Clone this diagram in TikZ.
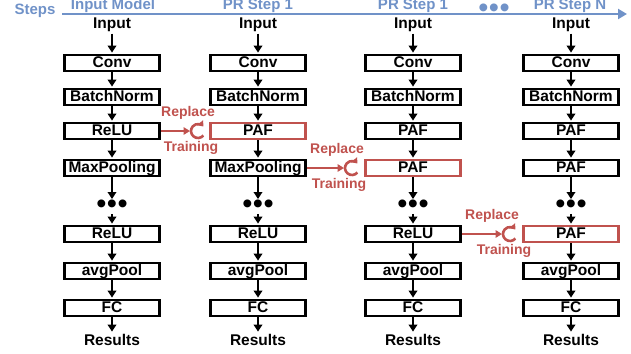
\documentclass[tikz,border=0pt]{standalone}
\usepackage{fontspec}
\setmainfont{Liberation Sans}
\usetikzlibrary{arrows.meta}
\definecolor{stepblue}{RGB}{112,146,200}
\definecolor{repred}{RGB}{192,82,78}
\newcommand{\mydots}{\fontsize{29}{29}\selectfont\textbullet\kern0.5pt\textbullet\kern0.5pt\textbullet}
\begin{document}
\begin{tikzpicture}[x=1pt,y=-1pt,
  layer/.style={draw=black, line width=2.8pt, minimum width=95pt, minimum height=16pt,
    inner sep=0pt, text height=10.8pt, text depth=2.2pt,
    font=\fontsize{15.5}{15.5}\selectfont\bfseries, fill=white},
  paf/.style={layer, draw=repred},
  lbl/.style={font=\fontsize{15.5}{15.5}\selectfont\bfseries, inner sep=1.5pt},
  hdr/.style={font=\fontsize{15}{15}\selectfont\bfseries, text=stepblue, inner sep=0pt},
  dotn/.style={inner sep=0pt, font=\mydots},
  flow/.style={line width=2.3pt, -{Triangle[width=8.5pt,length=7pt]}, shorten >=1pt},
  repl/.style={font=\fontsize{14}{14}\selectfont\bfseries, text=repred, inner sep=0pt},
  reparr/.style={draw=repred, line width=2.3pt, -{Triangle[width=7.5pt,length=6.5pt]}},
  repcirc/.style={draw=repred, line width=2.6pt, -{Triangle[width=7.5pt,length=5pt]}},
  axis/.style={draw=stepblue, line width=2.6pt, -{Triangle[width=10pt,length=9pt]}}
]
\useasboundingbox (0,0) rectangle (631,353);

% header
\node[hdr] (steps) at (35,11) {Steps};
\coordinate (axstart) at (62,14);
\coordinate (axend) at (627,14);
\draw[axis] (axstart) -- (axend);
\node[hdr, anchor=base] (h1) at (113,9.5) {Input Model};
\node[hdr, anchor=base] (h2) at (258,9.5) {PR Step 1};
\node[hdr, anchor=base] (h3) at (413,9.5) {PR Step 1};
\node[dotn, text=stepblue] (hd) at (494,11) {};
\node[hdr, anchor=base] (h4) at (570,9.5) {PR Step N};

% column 1
\node[lbl] (a0) at (112,25) {Input};
\node[layer] (a1) at (112,63) {Conv};
\node[layer] (a2) at (112,97) {BatchNorm};
\node[layer] (a3) at (112,131) {ReLU};
\node[layer] (a4) at (112,168) {MaxPooling};
\node[dotn] (a5) at (112,207) {};
\node[layer] (a6) at (112,234) {ReLU};
\node[layer] (a7) at (112,271) {avgPool};
\node[layer] (a8) at (112,308) {FC};
\node[lbl] (a9) at (112,340) {Results};

% column 2
\node[lbl] (b0) at (258,25) {Input};
\node[layer] (b1) at (258,63) {Conv};
\node[layer] (b2) at (258,97) {BatchNorm};
\node[paf] (b3) at (258,131) {PAF};
\node[layer] (b4) at (258,168) {MaxPooling};
\node[dotn] (b5) at (258,207) {};
\node[layer] (b6) at (258,234) {ReLU};
\node[layer] (b7) at (258,271) {avgPool};
\node[layer] (b8) at (258,308) {FC};
\node[lbl] (b9) at (258,340) {Results};

% column 3
\node[lbl] (c0) at (413,25) {Input};
\node[layer] (c1) at (413,63) {Conv};
\node[layer] (c2) at (413,97) {BatchNorm};
\node[layer] (c3) at (413,131) {PAF};
\node[paf] (c4) at (413,168) {PAF};
\node[dotn] (c5) at (413,207) {};
\node[layer] (c6) at (413,234) {ReLU};
\node[layer] (c7) at (413,271) {avgPool};
\node[layer] (c8) at (413,308) {FC};
\node[lbl] (c9) at (413,340) {Results};

% column 4
\node[lbl] (d0) at (571,25) {Input};
\node[layer] (d1) at (571,63) {Conv};
\node[layer] (d2) at (571,97) {BatchNorm};
\node[layer] (d3) at (571,131) {PAF};
\node[layer] (d4) at (571,168) {PAF};
\node[dotn] (d5) at (571,207) {};
\node[paf] (d6) at (571,234) {PAF};
\node[layer] (d7) at (571,271) {avgPool};
\node[layer] (d8) at (571,308) {FC};
\node[lbl] (d9) at (571,340) {Results};

\foreach \c in {a,b,c,d}{
  \draw[flow] (\c0) -- (\c1);
  \draw[flow] (\c1) -- (\c2);
  \draw[flow] (\c2) -- (\c3);
  \draw[flow] (\c3) -- (\c4);
  \draw[flow] (\c4) -- (\c5);
  \draw[flow] (\c5) -- (\c6);
  \draw[flow] (\c6) -- (\c7);
  \draw[flow] (\c7) -- (\c8);
  \draw[flow] (\c8) -- (\c9);
}

% replace 1
\coordinate (r1) at (198,131);
\draw[reparr] (a3.east) -- ([xshift=-8pt]r1);
\draw[repcirc] ([shift={(40:7)}]r1) arc[start angle=40, end angle=320, radius=7];
\node[repl] (rp1) at (188,113) {Replace};
\node[repl] (tr1) at (191,148) {Training};

% replace 2
\coordinate (r2) at (352,168);
\draw[reparr] (b4.east) -- ([xshift=-8pt]r2);
\draw[repcirc] ([shift={(40:7)}]r2) arc[start angle=40, end angle=320, radius=7];
\node[repl] (rp2) at (337,150) {Replace};
\node[repl] (tr2) at (339,185) {Training};

% replace 3
\coordinate (r3) at (510,234);
\draw[reparr] (c6.east) -- ([xshift=-8pt]r3);
\draw[repcirc] ([shift={(40:7)}]r3) arc[start angle=40, end angle=320, radius=7];
\node[repl] (rp3) at (492,216) {Replace};
\node[repl] (tr3) at (504,251) {Training};
\end{tikzpicture}
\end{document}
